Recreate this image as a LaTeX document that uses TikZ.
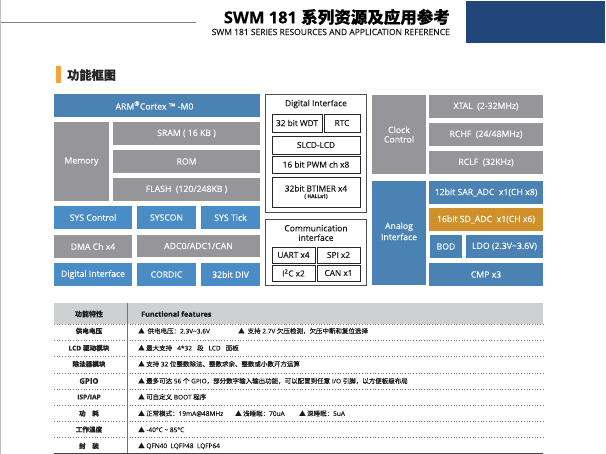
\documentclass[tikz,border=0pt]{standalone}
\usepackage{fontspec}
\setmainfont{Open Sans}[FakeBold=0.2]
\newfontfamily\cjk{Noto Sans CJK SC}[FakeBold=0.15]
\newcommand{\zh}[1]{{\cjk #1}}
\definecolor{navyblue}{HTML}{20467A}
\definecolor{boxgray}{HTML}{96969A}
\definecolor{boxblue}{HTML}{4A8CC5}
\definecolor{deepblue}{HTML}{4A82B4}
\definecolor{boxorange}{HTML}{D0902C}
\definecolor{headgray}{HTML}{CFD0D2}
\definecolor{markorange}{HTML}{F6A33A}
\tikzset
{
    block/.style = {inner sep=0pt, align=center, text=white, font=\fontsize{8.7}{9.5}\selectfont},
    graybox/.style = {block, fill=boxgray},
    bluebox/.style = {block, fill=boxblue},
    deepbox/.style = {block, fill=deepblue},
    framebox/.style = {inner sep=0pt, align=center, draw=black!85, line width=0.8pt, font=\fontsize{8.3}{9}\selectfont, text=black!90},
    outerbox/.style = {inner sep=0pt, draw=black!70, line width=0.8pt, minimum width=100.5pt},
    rowname/.style = {inner sep=0pt, font=\fontsize{6.6}{7}\selectfont\bfseries, text=black!85},
    rowtext/.style = {inner sep=0pt, anchor=west, font=\fontsize{6.5}{7}\selectfont, text=black!90},
    rowline/.style = {line width=0.7pt, black!55, dotted}
}
\begin{document}
\begin{tikzpicture}[x=1pt,y=-1pt]
\useasboundingbox (0,0) rectangle (606,454);
% page head
\draw[black!25, line width=1pt] (0.5,0) -- (0.5,454);
\draw[black!50, line width=0.8pt] (1,22.5) -- (196,22.5);
\node[fill=navyblue, minimum width=139pt, minimum height=42pt, inner sep=0pt] (corner) at (535.5,22) {};
\node[inner sep=0pt, anchor=east, font=\fontsize{16.5}{18}\selectfont\bfseries] (title) at (450,17) {SWM 181 \zh{\bfseries 系列资源及应用参考}};
\node[inner sep=0pt, anchor=east, font=\fontsize{8.5}{9}\selectfont, text=black!90] (subtitle) at (450,32) {SWM 181 SERIES RESOURCES AND APPLICATION REFERENCE};
\node[fill=markorange, minimum width=5pt, minimum height=17pt, inner sep=0pt] (mark) at (58.5,74.5) {};
\node[inner sep=0pt, anchor=west, font=\fontsize{12.2}{14}\selectfont\bfseries, text=black!85] (heading) at (67,75) {\zh{\bfseries 功能框图}};
% left column
\node[deepbox, minimum width=206pt, minimum height=23pt] (cortex) at (157,105.5) {ARM\textsuperscript{®}Cortex ™ -M0\hspace*{5pt}};
\node[graybox, minimum width=55pt, minimum height=79pt] (memory) at (81.5,161.5) {\raisebox{1.5pt}{Memory}};
\node[graybox, minimum width=147pt, minimum height=23pt] (sram) at (186.5,133.5) {SRAM ( 16 KB )};
\node[graybox, minimum width=147pt, minimum height=23pt] (rom) at (186.5,161.5) {ROM};
\node[graybox, minimum width=147pt, minimum height=23pt] (flash) at (186.5,189.5) {FLASH\ \ (120/248KB )};
\node[bluebox, minimum width=78pt, minimum height=23pt] (syscontrol) at (93,217.5) {SYS Control};
\node[bluebox, minimum width=59pt, minimum height=23pt] (syscon) at (166.5,217.5) {SYSCON};
\node[bluebox, minimum width=59pt, minimum height=23pt] (systick) at (230.5,217.5) {SYS Tick};
\node[graybox, minimum width=78pt, minimum height=23pt] (dma) at (93,246.5) {DMA Ch x4};
\node[graybox, minimum width=123pt, minimum height=22pt] (adc) at (198.5,246) {ADC0/ADC1/CAN};
\node[bluebox, minimum width=78pt, minimum height=23pt] (digital) at (93,274.5) {Digital Interface};
\node[bluebox, minimum width=59pt, minimum height=23pt] (cordic) at (166.5,274.5) {CORDIC};
\node[bluebox, minimum width=59pt, minimum height=23pt] (div) at (230.5,274.5) {32bit DIV};
% middle column
\node[outerbox, minimum height=118pt] (digitalbox) at (315.75,153) {};
\node[inner sep=0pt, font=\fontsize{8.4}{9}\selectfont, text=black!90] (digitaltitle) at (316,104) {Digital Interface};
\node[framebox, minimum width=50pt, minimum height=18pt] (wdt) at (297,123) {32 bit WDT};
\node[framebox, minimum width=36pt, minimum height=18pt] (rtc) at (342,123) {RTC};
\node[framebox, minimum width=88pt, minimum height=18pt] (slcd) at (316,145) {SLCD-LCD};
\node[framebox, minimum width=88pt, minimum height=17pt] (pwm) at (316,164.5) {16 bit PWM ch x8};
\node[framebox, minimum width=88pt, minimum height=30pt] (btimer) at (316,192) {32bit BTIMER x4\\[-2.5pt]{\fontsize{5}{5}\selectfont\bfseries ( HALLx1)}};
\node[outerbox, minimum height=66pt] (commbox) at (315.75,252) {};
\node[inner sep=0pt, align=center, font=\fontsize{8.5}{9.5}\selectfont, text=black!90] (commtitle) at (316,233) {Communication\\interface};
\node[framebox, minimum width=43pt, minimum height=16pt] (uart) at (293.5,255) {UART x4};
\node[framebox, minimum width=43pt, minimum height=16pt] (spi) at (338.5,255) {SPI x2};
\node[framebox, minimum width=43pt, minimum height=16pt] (iic) at (293.5,273) {I\textsuperscript{2}C x2};
\node[framebox, minimum width=43pt, minimum height=16pt] (can) at (338.5,273) {CAN x1};
% right column
\node[graybox, minimum width=54pt, minimum height=79pt] (clock) at (399,134.5) {\raisebox{-3.5pt}{Clock}\\\raisebox{-3.5pt}{Control}};
\node[graybox, minimum width=114pt, minimum height=23pt] (xtal) at (486,106.5) {XTAL\ \ (2-32MHz)};
\node[graybox, minimum width=114pt, minimum height=23pt] (rchf) at (486,134.5) {RCHF\ \ (24/48MHz)};
\node[graybox, minimum width=114pt, minimum height=23pt] (rclf) at (486,162.5) {RCLF\ \ (32KHz)};
\node[deepbox, minimum width=54pt, minimum height=104pt] (analog) at (399,233) {\raisebox{3.5pt}{Analog}\\\raisebox{3.5pt}{Interface}};
\node[deepbox, minimum width=114pt, minimum height=23pt] (saradc) at (486,192.5) {12bit SAR\_ADC\ \ x1(CH x8)};
\node[block, fill=boxorange, minimum width=114pt, minimum height=23pt] (sdadc) at (486,219.5) {16bit SD\_ADC\ \ x1(CH x6)};
\node[deepbox, minimum width=32pt, minimum height=23pt] (bod) at (446,246.5) {BOD};
\node[deepbox, minimum width=77pt, minimum height=23pt] (ldo) at (504.5,246.5) {LDO (2.3V\textasciitilde 3.6V)};
\node[deepbox, minimum width=114pt, minimum height=23pt] (cmp) at (486,274.5) {CMP x3};
% feature table
\node[fill=headgray, minimum width=489pt, minimum height=21pt, inner sep=0pt] (headbar) at (298.5,313.5) {};
\draw[rowline] (54,324.5) -- (543,324.5);
\draw[rowline] (54,340) -- (543,340);
\draw[rowline] (54,356.5) -- (543,356.5);
\draw[rowline] (54,373) -- (543,373);
\draw[rowline] (54,389) -- (543,389);
\draw[rowline] (54,405.5) -- (543,405.5);
\draw[rowline] (54,421.5) -- (543,421.5);
\draw[rowline] (54,437.5) -- (543,437.5);
\draw[black!75, line width=0.9pt] (54,453) -- (543,453);
\draw[black!55, line width=1pt] (127,303) -- (127,453);
\node[rowname, font=\fontsize{7}{8}\selectfont\bfseries] (h1) at (89,314) {\zh{\bfseries 功能特性}};
\node[rowtext, font=\fontsize{7.2}{8}\selectfont\bfseries] (h2) at (141,314) {Functional features};
\node[rowname] (n1) at (89,331) {\zh{\bfseries 供电电压}};
\node[rowname] (n2) at (89,348) {LCD \zh{\bfseries 驱动模块}};
\node[rowname] (n3) at (89,364) {\zh{\bfseries 除法器模块}};
\node[rowname, font=\fontsize{7.8}{8}\selectfont\bfseries] (n4) at (89,381) {GPIO};
\node[rowname] (n5) at (89,397) {ISP/IAP};
\node[rowname] (n6) at (89,413.5) {\zh{\bfseries 功\quad 耗}};
\node[rowname] (n7) at (89,429.5) {\zh{\bfseries 工作温度}};
\node[rowname] (n8) at (89,446) {\zh{\bfseries 封\quad 装}};
\node[rowtext] (t1) at (138,331) {\zh{▲\ \ 供电电压：}2.3V\textasciitilde 3.6V};
\node[rowtext] (t1b) at (238,331) {\zh{▲\ \ 支持} 2.7V \zh{欠压检测，欠压中断和复位选择}};
\node[rowtext] (t2) at (138,348) {\zh{▲ 最大支持}\ \ \ 4*32\ \ \ \zh{段}\ \ \ LCD\ \ \ \zh{面板}};
\node[rowtext] (t3) at (138,364) {\zh{▲ 支持} 32 \zh{位整数除法、整数求余、整数或小数开方运算}};
\node[rowtext] (t4) at (138,381) {\zh{▲ 最多可达} 56 \zh{个} GPIO\zh{，部分数字输入输出功能，可以配置到任意} I/O \zh{引脚，以方便板级布局}};
\node[rowtext] (t5) at (138,397) {\zh{▲ 可自定义} BOOT \zh{程序}};
\node[rowtext] (t6) at (138,413.5) {\zh{▲ 正常模式：}19mA@48MHz};
\node[rowtext] (t6b) at (235,413.5) {\zh{▲ 浅睡眠：}70uA};
\node[rowtext] (t6c) at (299,413.5) {\zh{▲ 深睡眠：}5uA};
\node[rowtext] (t7) at (138,429.5) {\zh{▲} -40\textdegree C \textasciitilde{} 85\textdegree C};
\node[rowtext] (t8) at (138,446) {\zh{▲} QFN40\ \ LQFP48\ \ LQFP64};
\end{tikzpicture}
\end{document}
